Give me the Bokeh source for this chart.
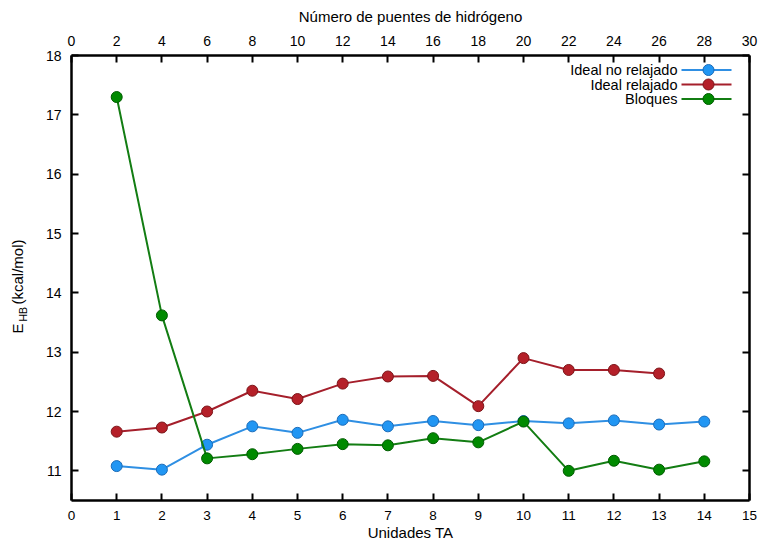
from bokeh.plotting import figure
from bokeh.layouts import row
from bokeh.models import Range1d, LinearAxis, FixedTicker, Label, CustomJSTickFormatter
from bokeh.embed import file_html
from bokeh.resources import INLINE

# ---- data ----
unidades = [1, 2, 3, 4, 5, 6, 7, 8, 9, 10, 11, 12, 13, 14]
unidades_relajado = [1, 2, 3, 4, 5, 6, 7, 8, 9, 10, 11, 12, 13]
ideal_no_relajado = [11.08, 11.02, 11.44, 11.75, 11.64, 11.86, 11.75, 11.84, 11.77, 11.84, 11.80, 11.85, 11.78, 11.83]
ideal_relajado = [11.66, 11.73, 12.00, 12.35, 12.21, 12.47, 12.59, 12.60, 12.09, 12.90, 12.70, 12.70, 12.64]
bloques = [17.30, 13.62, 11.21, 11.28, 11.37, 11.45, 11.43, 11.55, 11.48, 11.83, 11.00, 11.17, 11.02, 11.16]
series_names = ["Ideal no relajado", "Ideal relajado", "Bloques"]
x_ticks = list(range(0, 16))
top_ticks = list(range(0, 31, 2))
y_ticks = [11, 12, 13, 14, 15, 16, 17, 18]

# ---- styles ----
FONT = "Liberation Sans"
LINE_COLORS = ["#2f8fe3", "#a51f2b", "#137d13"]
FILL_COLORS = ["#2196f3", "#b52029", "#008a00"]
EDGE_COLORS = ["#1c6cb8", "#7c1519", "#005c00"]

H = 543
LW = 40                      # strip holding the y-axis title
W = 760 - LW
FL, FR, FT, FB = 71 - LW, 749 - LW, 55, 500   # frame edges inside main figure

X0, X1, Y0, Y1 = 0, 15, 10.5, 18

# ---- y-axis title strip (own figure so the rotated title is not clipped) ----
ylab = figure(width=LW, height=H, output_backend="svg", toolbar_location=None,
              x_range=Range1d(0, 1), y_range=Range1d(0, 1),
              x_axis_location=None, y_axis_location=None,
              min_border_left=0, min_border_right=0, min_border_top=FT, min_border_bottom=H - FB)
ylab.grid.visible = False
ylab.outline_line_color = None
ylab.background_fill_color = "white"
ylab.border_fill_color = "white"
ylab_font = "15px"
# screen units: x from strip's left edge, y up from the frame bottom (page y = FB - y)
ylab.add_layout(Label(x=17, y=FB - 333, x_units="screen", y_units="screen", text="E",
                      angle=90, angle_units="deg", text_align="left", text_baseline="alphabetic",
                      text_font=FONT, text_font_size=ylab_font, text_color="black"))
ylab.add_layout(Label(x=22, y=FB - 321, x_units="screen", y_units="screen", text="HB",
                      angle=90, angle_units="deg", text_align="left", text_baseline="alphabetic",
                      text_font=FONT, text_font_size="10.5px", text_color="black"))
ylab.add_layout(Label(x=17, y=FB - 304, x_units="screen", y_units="screen", text="(kcal/mol)",
                      angle=90, angle_units="deg", text_align="left", text_baseline="alphabetic",
                      text_font=FONT, text_font_size=ylab_font, text_color="black"))

# ---- main chart ----
p = figure(width=W, height=H, output_backend="svg", toolbar_location=None,
           x_range=Range1d(X0, X1), y_range=Range1d(Y0, Y1),
           x_axis_location=None, y_axis_location=None,
           min_border_left=FL, min_border_right=W - FR,
           min_border_top=FT, min_border_bottom=H - FB)
p.grid.visible = False
p.outline_line_color = None
p.background_fill_color = "white"
p.border_fill_color = "white"
p.extra_x_ranges = {"puentes": Range1d(0, 30)}


def style_axis(ax, standoff, label_standoff, tick_font="14px"):
    ax.axis_line_width = 2.5
    ax.axis_line_color = "black"
    ax.major_tick_line_width = 2
    ax.major_tick_line_color = "black"
    ax.major_tick_in = 7
    ax.major_tick_out = 0
    ax.minor_tick_line_color = None
    ax.major_label_text_font = FONT
    ax.major_label_text_font_size = tick_font
    ax.major_label_text_color = "black"
    ax.major_label_text_line_height = 1.0
    ax.major_label_standoff = standoff
    ax.axis_label_text_font = FONT
    ax.axis_label_text_font_size = "15px"
    ax.axis_label_text_font_style = "normal"
    ax.axis_label_text_color = "black"
    ax.axis_label_text_line_height = 1.0
    ax.axis_label_standoff = label_standoff


bottom = LinearAxis(ticker=FixedTicker(ticks=x_ticks), axis_label="Unidades TA")
style_axis(bottom, 10, 1, "13.5px")
p.add_layout(bottom, "below")

top = LinearAxis(x_range_name="puentes", ticker=FixedTicker(ticks=top_ticks),
                 axis_label="Número de puentes de hidrógeno")
style_axis(top, 10, 8)
p.add_layout(top, "above")

left = LinearAxis(ticker=FixedTicker(ticks=y_ticks))
style_axis(left, 10, 0)
p.add_layout(left, "left")

right = LinearAxis(ticker=FixedTicker(ticks=y_ticks),
                   formatter=CustomJSTickFormatter(code="return ''"))
style_axis(right, 0, 0)
p.add_layout(right, "right")

series = [(unidades, ideal_no_relajado), (unidades_relajado, ideal_relajado), (unidades, bloques)]
for i, (xs, ys) in enumerate(series):
    p.line(xs, ys, line_color=LINE_COLORS[i], line_width=2)
    p.scatter(xs, ys, size=11, fill_color=FILL_COLORS[i], line_color=EDGE_COLORS[i], line_width=1)

# ---- legend (text right-aligned, sample on the right) ----
fw, fh = FR - FL, FB - FT


def px_to_x(px):
    return X0 + (px - LW - FL) / fw * (X1 - X0)


def py_to_y(py):
    return Y1 - (py - FT) / fh * (Y1 - Y0)


rows_py = [69.5, 84, 98.5]
for i, name in enumerate(series_names):
    yy = py_to_y(rows_py[i])
    p.add_layout(Label(x=677 - LW - FL, y=FB - rows_py[i], x_units="screen", y_units="screen", text=name,
                       text_align="right", text_baseline="middle",
                       text_font=FONT, text_font_size="14.5px", text_color="black"))
    p.line([px_to_x(681), px_to_x(731)], [yy, yy], line_color=LINE_COLORS[i], line_width=2)
    p.scatter([px_to_x(708)], [yy], size=11, fill_color=FILL_COLORS[i],
              line_color=EDGE_COLORS[i], line_width=1)

layout = row(ylab, p, spacing=0)
open("out.html", "w").write(file_html(layout, INLINE))
